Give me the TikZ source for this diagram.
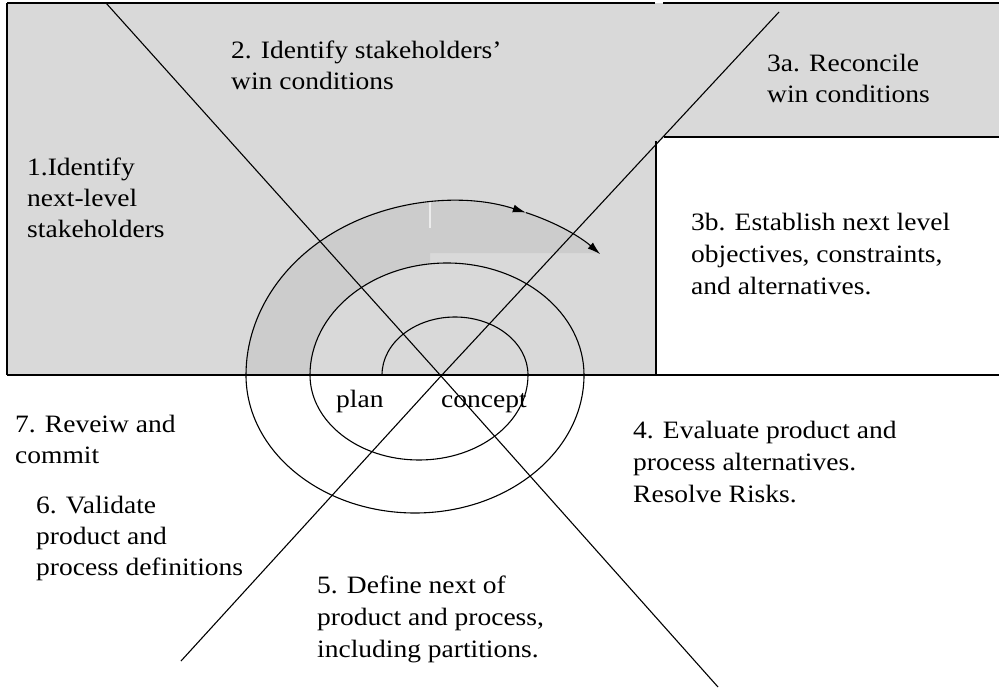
\documentclass[tikz,border=0pt]{standalone}
\usepackage{fontspec}
\setmainfont{Liberation Serif}[FakeStretch=1.1]
\usetikzlibrary{arrows.meta}
\definecolor{panel}{RGB}{217,217,217}
\definecolor{band}{RGB}{204,204,204}
\definecolor{seam}{RGB}{236,236,236}
\begin{document}
\begin{tikzpicture}[x=1pt,y=-1pt,
  rule/.style={line width=1.1pt,black},
  frame/.style={line width=1.6pt,black},
  lbl/.style={anchor=base west,inner sep=0pt,align=left,
    font=\fontsize{25}{31}\selectfont},
  tip/.style={-{Latex[length=13pt,width=8pt]}}]

\fill[white] (0,0) rectangle (999,688);
\useasboundingbox (0,0) rectangle (999,688);

% shaded upper half of the plane
\fill[panel] (7,3) rectangle (999,375);
% open box for step 3b
\fill[white] (656,146) -- (664,137) -- (999,137) -- (999,375) -- (656,375) -- cycle;

% darker band between the outer and middle turns of the spiral
\fill[band] (246,375) arc[start angle=180,end angle=315.5,x radius=206,y radius=174]
  -- (430,253) -- (430,264)
  arc[start angle=262.9,end angle=180,x radius=137,y radius=112] -- cycle;
\draw[seam,line width=1.5pt] (430,202) -- (430,228);

% frame and dividing lines
\draw[frame] (7,3) -- (7,375);
\draw[frame] (7,3) -- (655,3);
\draw[frame] (663,3) -- (999,3);
\draw[frame] (7,375) -- (999,375);
\draw[rule] (664,137) -- (999,137);
\draw[rule] (656,141) -- (656,375);

% the two crossing axes
\coordinate (hub) at (441,376);
\coordinate (ne) at (779,12);
\coordinate (sw) at (181,661);
\coordinate (nw) at (106,3);
\coordinate (se) at (718,687);
\draw[rule] (ne) -- (hub) -- (sw);
\draw[rule] (nw) -- (hub) -- (se);

% spiral, growing outward clockwise
\draw[rule] (382,375)
  arc[start angle=180,end angle=360,x radius=73,y radius=58]
  arc[start angle=0,end angle=180,x radius=109,y radius=85]
  arc[start angle=180,end angle=360,x radius=137,y radius=112]
  arc[start angle=0,end angle=180,x radius=169,y radius=138];
\draw[rule,tip] (246,375)
  arc[start angle=180,end angle=291,x radius=206,y radius=174] coordinate (mid);
\draw[rule,tip] (mid)
  arc[start angle=291,end angle=316,x radius=206,y radius=174];

% step labels (placed by the baseline of their last line)
\node[lbl] (s1) at (27,237) {1.Identify\\next-level\\stakeholders};
\node[lbl] (s2) at (231,89) {2. Identify stakeholders'\\win conditions};
\node[lbl] (s3a) at (767,102) {3a. Reconcile\\win conditions};
\node[lbl,font=\fontsize{25}{32}\selectfont] (s3b) at (691,294)
  {3b. Establish next level\\objectives, constraints,\\and alternatives.};
\node[lbl,font=\fontsize{25}{32}\selectfont] (s4) at (633,502)
  {4. Evaluate product and\\process alternatives.\\Resolve Risks.};
\node[lbl,font=\fontsize{25}{32}\selectfont] (s5) at (317,657)
  {5. Define next of\\product and process,\\including partitions.};
\node[lbl] (s6) at (36,575) {6. Validate\\product and\\process definitions};
\node[lbl] (s7) at (15,463) {7. Reveiw and\\commit};
\node[lbl] (plan) at (336,407) {plan};
\node[lbl] (concept) at (441,407) {concept};
\end{tikzpicture}
\end{document}
